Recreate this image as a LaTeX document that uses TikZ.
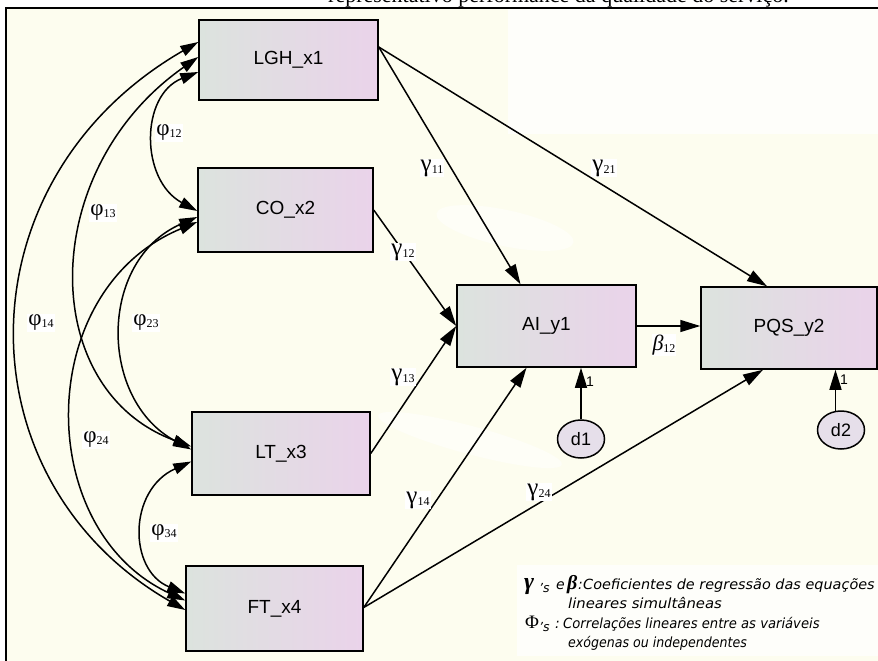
\documentclass[tikz,border=0pt]{standalone}
\usepackage{fontspec}
\setmainfont{Liberation Sans}
\newfontfamily\serif{Liberation Serif}
\newfontfamily\legendfont{DejaVu Sans}
\usetikzlibrary{arrows.meta,shapes.geometric,calc}

\definecolor{cream}{HTML}{FDFDEF}
\definecolor{boxL}{HTML}{DCE3DE}
\definecolor{boxR}{HTML}{EAD3EA}
\definecolor{errfill}{HTML}{E6DFEA}

% coefficient labels
\newcommand\glab[1]{{\serif\fontsize{25pt}{25pt}\selectfont γ\fontsize{12pt}{12pt}\selectfont\raisebox{-2pt}{#1}}}
\newcommand\plab[1]{{\serif\fontsize{23pt}{23pt}\selectfont φ\fontsize{12pt}{12pt}\selectfont\raisebox{-2pt}{#1}}}

\tikzset{
  var/.style={draw=black, line width=1.5pt, left color=boxL, right color=boxR,
    inner sep=0pt, font=\fontsize{19pt}{19pt}\selectfont},
  err/.style={ellipse, draw=black, line width=1.5pt, fill=errfill, inner sep=0pt,
    minimum width=47pt, minimum height=38pt, font=\fontsize{18pt}{18pt}\selectfont},
  path/.style={line width=1.5pt, -{Triangle[length=20pt,width=12pt]}},
  cov/.style={line width=1.5pt, {Triangle[length=18pt,width=11pt]}-{Triangle[length=18pt,width=11pt]}},
  coef/.style={fill=white, inner sep=1pt},
  one/.style={font=\fontsize{14pt}{14pt}\selectfont, inner sep=0pt},
  legend/.style={anchor=base west, inner sep=0pt,
    font=\legendfont\itshape\fontsize{14pt}{14pt}\selectfont},
}

\begin{document}
\begin{tikzpicture}[x=1pt,y=-1pt]
\useasboundingbox (0,0) rectangle (878,661);
\fill[white] (0,0) rectangle (878,661);

% title line, running off the top edge
\node[anchor=base west, inner sep=0pt, font=\serif\fontsize{22pt}{22pt}\selectfont] (title) at (328,3)
  {representativo performance da qualidade do serviço.};

% frame and canvas
\fill[cream] (6,8) rectangle (878,661);
\fill[white, opacity=0.7] (508,9) rectangle (878,134);
\fill[white, opacity=0.55, rotate around={-12:(505,228)}] (505,228) ellipse (70pt and 18pt);
\fill[white, opacity=0.55, rotate around={-15:(470,440)}] (470,440) ellipse (95pt and 14pt);
\draw[line width=2pt] (878,8) -- (6,8) -- (6,661);

% observed variables
\node[var, minimum width=179pt, minimum height=80pt] (LGH) at (288.5,60)  {LGH\_x1};
\node[var, minimum width=175pt, minimum height=84pt] (CO)  at (285.5,210) {CO\_x2};
\node[var, minimum width=178pt, minimum height=83pt] (LT)  at (281,453.5) {LT\_x3};
\node[var, minimum width=177pt, minimum height=85pt] (FT)  at (274.5,608.5) {FT\_x4};
\node[var, minimum width=179pt, minimum height=82pt] (AI)  at (546.5,326) {AI\_y1};
\node[var, minimum width=176pt, minimum height=82pt] (PQS) at (789,328)   {PQS\_y2};

% disturbances
\node[err] (d1) at (581,439) {d1};
\node[err] (d2) at (841,430) {d2};

% structural paths
\draw[path] ([yshift=13pt]LGH.east) -- ([xshift=-26pt]AI.north);
\draw[path] ([yshift=13pt]LGH.east) -- ([xshift=-22pt]PQS.north);
\draw[path] (CO.east) -- (AI.west);
\draw[path] (LT.east) -- (AI.west);
\draw[path] ([yshift=1pt]FT.east) -- ([xshift=-20pt]AI.south);
\draw[path] ([yshift=1pt]FT.east) -- ([xshift=-26pt]PQS.south);
\draw[path] (AI.east) -- (AI.east -| PQS.west);
\draw[path] (d1.north) -- (d1.north |- AI.south);
\draw[path] (d2.106) -- (d2.106 |- PQS.south);

% covariances among exogenous variables
\draw[cov] ([yshift=-12pt]LGH.west) .. controls (140,95) and (140,180) .. ([yshift=-1pt]CO.west);
\draw[cov] ([yshift=3pt]LGH.west) .. controls (37,170) and (37,390) .. ([yshift=7pt]LT.west);
\draw[cov] ([yshift=18pt]LGH.west) .. controls (-41,180) and (-41,480) .. ([yshift=-1.5pt]FT.west);
\draw[cov] ([yshift=-7pt]CO.west) .. controls (98,260) and (98,400) .. ([yshift=4pt]LT.west);
\draw[cov] ([yshift=-12pt]CO.west) .. controls (33,290) and (33,530) .. ([yshift=8pt]FT.west);
\draw[cov] ([yshift=-8pt]LT.west) .. controls (128,490) and (128,570) .. ([yshift=15pt]FT.west);

% coefficient labels
\node[coef] (g11) at (432,168) {\glab{11}};
\node[coef] (g21) at (604,168) {\glab{21}};
\node[coef] (g12) at (403,252) {\glab{12}};
\node[coef] (g13) at (403,377) {\glab{13}};
\node[coef] (g14) at (418,500) {\glab{14}};
\node[coef] (g24) at (539,492) {\glab{24}};
\node[coef] (b12) at (664,345) {{\serif\itshape\fontsize{22pt}{22pt}\selectfont β\upshape\fontsize{12pt}{12pt}\selectfont\raisebox{-2pt}{12}}};
\node[coef] (p12) at (169,133) {\plab{12}};
\node[coef] (p13) at (103,213) {\plab{13}};
\node[coef] (p14) at (41,323)  {\plab{14}};
\node[coef] (p23) at (146,323) {\plab{23}};
\node[coef] (p24) at (96,440)  {\plab{24}};
\node[coef] (p34) at (164,533) {\plab{34}};

% unit loadings of the disturbances
\node[one] (o1) at (590,382) {1};
\node[one] (o2) at (844,380) {1};

% legend
\fill[white, opacity=0.7] (517,565) rectangle (878,656);
\node[legend, font=\serif\bfseries\itshape\fontsize{24pt}{24pt}\selectfont] (lg) at (524,589) {γ};
\node[legend, font=\legendfont\itshape\fontsize{12.5pt}{12.5pt}\selectfont] (lgs) at (539,592) {’s};
\node[legend] (le) at (556,589) {e};
\node[legend, font=\serif\bfseries\itshape\fontsize{20pt}{20pt}\selectfont] (lb) at (567,589) {β};
\node[legend] (lc1) at (578,589) {:};
\node[legend] (l1) at (583,589) {\scalebox{1.03}[1]{Coeficientes de regressão das equações}};
\node[legend] (l2) at (568,608) {\scalebox{1.06}[1]{lineares simultâneas}};
\node[legend, font=\serif\fontsize{19pt}{19pt}\selectfont] (lp) at (525,628) {Φ};
\node[legend, font=\legendfont\itshape\fontsize{12.5pt}{12.5pt}\selectfont] (lps) at (539,631) {’s};
\node[legend] (lc2) at (555,628) {:};
\node[legend] (l3) at (563,628) {\scalebox{0.94}[1]{Correlações lineares entre as variáveis}};
\node[legend] (l4) at (568,647) {\scalebox{0.9}[1]{exógenas ou independentes}};
\end{tikzpicture}
\end{document}
